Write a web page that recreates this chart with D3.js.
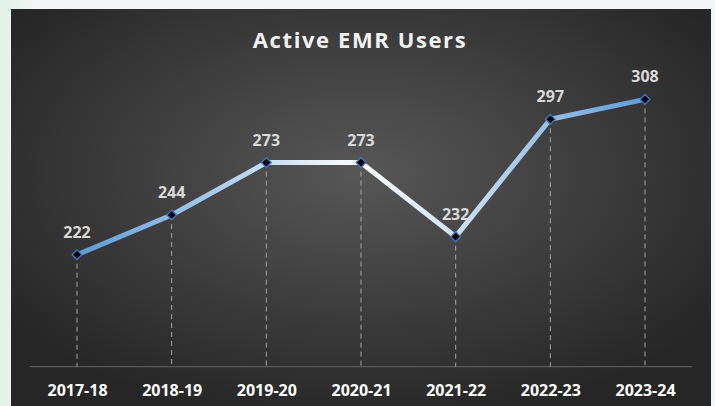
<!DOCTYPE html>
<html>
<head>
<meta charset="utf-8">
<script src="https://cdn.jsdelivr.net/npm/d3@7"></script>
<style>
  html, body { margin: 0; padding: 0; background: #f3f6f7; }
  #graphique { width: 715px; height: 406px; }
</style>
</head>
<body>
<div id="graphique"></div>
<script>
// Données
const annees  = ["2017-18", "2018-19", "2019-20", "2020-21", "2021-22", "2022-23", "2023-24"];
const valeurs = [222, 244, 273, 273, 232, 297, 308];
const titre   = "Active EMR Users";

const largeur = 715, hauteur = 406;
const panneau = { x: 11, y: 9, w: 700, h: 410 };
const police  = "'Open Sans', 'Liberation Sans', sans-serif";

const svg = d3.select("#graphique").append("svg")
    .attr("width", largeur).attr("height", hauteur);

const defs = svg.append("defs");

// fond clair avec léger vert à gauche
const fondGauche = defs.append("linearGradient").attr("id", "fondGauche");
fondGauche.append("stop").attr("offset", "0%").attr("stop-color", "#e3f3e8");
fondGauche.append("stop").attr("offset", "100%").attr("stop-color", "#f3f6f7");
svg.append("rect").attr("width", 40).attr("height", hauteur).attr("fill", "url(#fondGauche)");

// panneau sombre — dégradé radial
const radial = defs.append("radialGradient").attr("id", "fondPanneau")
    .attr("cx", "50%").attr("cy", "40%").attr("r", "62%");
radial.append("stop").attr("offset", "0%").attr("stop-color", "#575757");
radial.append("stop").attr("offset", "100%").attr("stop-color", "#262626");

svg.append("rect")
    .attr("x", panneau.x).attr("y", panneau.y)
    .attr("width", panneau.w).attr("height", panneau.h)
    .attr("fill", "url(#fondPanneau)");

// Échelles
const x = d3.scalePoint().domain(annees).range([77, 645]);
const y = d3.scaleLinear().domain([160, 340]).range([366.7, 41.6]);

// Axe horizontal
const axeX = svg.append("g").attr("transform", `translate(0,${y(160)})`)
    .call(d3.axisBottom(x).tickSize(0).tickPadding(18));
axeX.select(".domain").remove();
axeX.append("line")
    .attr("x1", 30).attr("x2", 692)
    .attr("stroke", "#595959").attr("stroke-width", 1.3);
axeX.selectAll(".tick text")
    .attr("fill", "#ffffff")
    .style("font-family", police).style("font-size", "16px").style("font-weight", "700");

// Lignes de rappel pointillées
svg.append("g").selectAll("line").data(valeurs).join("line")
    .attr("x1", (d, i) => x(annees[i])).attr("x2", (d, i) => x(annees[i]))
    .attr("y1", d => y(d)).attr("y2", y(160))
    .attr("stroke", "#a6a6a6").attr("stroke-width", 1)
    .attr("stroke-dasharray", "5,4");

// Dégradé de la courbe : bleu aux extrémités, blanc au centre
const degrade = defs.append("linearGradient").attr("id", "degradeLigne")
    .attr("gradientUnits", "userSpaceOnUse")
    .attr("x1", x(annees[0])).attr("x2", x(annees[annees.length - 1]))
    .attr("y1", 0).attr("y2", 0);
degrade.append("stop").attr("offset", "0%").attr("stop-color", "#5b9bd5");
degrade.append("stop").attr("offset", "30%").attr("stop-color", "#bcd7f0");
degrade.append("stop").attr("offset", "50%").attr("stop-color", "#ffffff");
degrade.append("stop").attr("offset", "72%").attr("stop-color", "#bcd7f0");
degrade.append("stop").attr("offset", "100%").attr("stop-color", "#5b9bd5");

const ligne = d3.line()
    .x((d, i) => x(annees[i]))
    .y(d => y(d));

svg.append("path").datum(valeurs)
    .attr("d", ligne)
    .attr("fill", "none")
    .attr("stroke", "url(#degradeLigne)")
    .attr("stroke-width", 5)
    .attr("stroke-linejoin", "round");

// Marqueurs losanges
svg.append("g").selectAll("path").data(valeurs).join("path")
    .attr("transform", (d, i) => `translate(${x(annees[i])},${y(d)})`)
    .attr("d", d3.symbol(d3.symbolDiamond2, 60))
    .attr("fill", "#000000")
    .attr("stroke", "#4472c4").attr("stroke-width", 1.4);

// Étiquettes de valeurs
svg.append("g").selectAll("text").data(valeurs).join("text")
    .attr("x", (d, i) => x(annees[i]))
    .attr("y", d => y(d) - 17)
    .attr("text-anchor", "middle")
    .attr("fill", "#d9d9d9")
    .style("font-family", police).style("font-size", "16px").style("font-weight", "700")
    .text(d => d);

// Titre
svg.append("text")
    .attr("x", 360).attr("y", 48)
    .attr("text-anchor", "middle")
    .attr("fill", "#f2f2f2")
    .style("font-family", police).style("font-size", "22px").style("font-weight", "700")
    .style("letter-spacing", "1.6px")
    .text(titre);
</script>
</body>
</html>
